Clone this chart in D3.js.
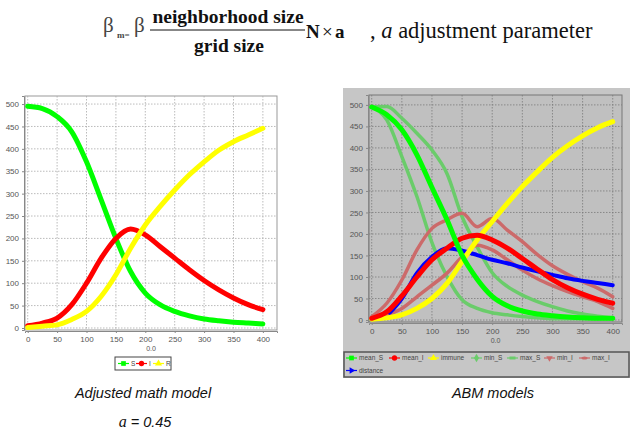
<!DOCTYPE html>
<html>
<head>
<meta charset="utf-8">
<script src="https://cdn.jsdelivr.net/npm/d3@7"></script>
<style>
  body { margin: 0; background: #fff; }
  svg { display: block; }
</style>
</head>
<body>
<svg id="chart" width="630" height="437"></svg>
<script>
// ---- data: adjusted math model (left) ----
var mathT = [0, 25, 50, 75, 100, 125, 150, 175, 200, 225, 250, 275, 300, 325, 350, 375, 400];
var mathS = [495, 490, 472, 438, 371, 286, 200, 126, 78, 52, 37, 27, 20, 16, 13, 11, 9];
var mathI = [5, 11, 22, 52, 100, 156, 200, 221, 208, 182, 156, 130, 106, 85, 67, 52, 41];
var mathR = [1, 4, 7, 19, 37, 71, 119, 178, 230, 271, 308, 342, 371, 397, 416, 431, 446];

// ---- data: ABM models (right) ----
var abmT = [0, 25, 50, 75, 100, 125, 150, 175, 200, 225, 250, 275, 300, 325, 350, 375, 400];
var meanS = [495, 477, 442, 384, 308, 233, 150, 95, 55, 33, 21, 14, 10, 7, 5, 4, 4];
var minS = [495, 465, 380, 287, 180, 101, 47, 27, 17, 12, 8, 5, 3, 3, 3, 3, 3];
var maxS = [495, 496, 469, 434, 395, 340, 240, 170, 110, 78, 58, 43, 31, 21, 14, 9, 5];
var meanI = [4, 19, 56, 100, 140, 167, 190, 197, 186, 167, 143, 118, 94, 75, 60, 48, 39];
var maxI = [8, 39, 93, 163, 213, 233, 248, 217, 236, 209, 182, 152, 126, 106, 89, 74, 54];
var minI = [3, 12, 27, 54, 81, 109, 147, 174, 163, 140, 116, 96, 80, 66, 54, 43, 27];
var immune = [2, 5, 12, 27, 50, 85, 136, 186, 229, 271, 310, 345, 378, 405, 428, 447, 461];
var distT = [30, 50, 75, 100, 125, 150, 175, 200, 225, 250, 275, 300, 325, 350, 375, 400];
var distance = [17, 50, 109, 147, 167, 161, 151, 140, 132, 122, 113, 105, 97, 91, 86, 81];

var xTicks = [0, 50, 100, 150, 200, 250, 300, 350, 400];
var yTicks = [0, 50, 100, 150, 200, 250, 300, 350, 400, 450, 500];

var svg = d3.select("#chart");
var tickFont = "Liberation Sans, Arial, sans-serif";

function drawPanel(opt) {
  var g = svg.append("g");
  var x = d3.scaleLinear().domain(opt.xDomain).range([opt.left, opt.right]);
  var y = d3.scaleLinear().domain(opt.yDomain).range([opt.bottom, opt.top]);

  g.append("rect")
    .attr("x", opt.left).attr("y", opt.top)
    .attr("width", opt.right - opt.left).attr("height", opt.bottom - opt.top)
    .attr("fill", opt.plotBg).attr("stroke", opt.border).attr("stroke-width", 1);

  // grid
  g.selectAll(".gx").data(xTicks).enter().append("line")
    .attr("x1", d => x(d)).attr("x2", d => x(d))
    .attr("y1", opt.top).attr("y2", opt.bottom)
    .attr("stroke", opt.grid).attr("stroke-width", 0.8).attr("stroke-dasharray", "1.5,1.5");
  g.selectAll(".gy").data(yTicks).enter().append("line")
    .attr("y1", d => y(d)).attr("y2", d => y(d))
    .attr("x1", opt.left).attr("x2", opt.right)
    .attr("stroke", opt.grid).attr("stroke-width", 0.8).attr("stroke-dasharray", "1.5,1.5");

  // axes
  var xAxis = d3.axisBottom(x).tickValues(xTicks).tickSize(2).tickPadding(3);
  var yAxis = d3.axisLeft(y).tickValues(yTicks).tickSize(2).tickPadding(3);
  var gx = g.append("g").attr("transform", "translate(0," + (opt.bottom + 1) + ")").call(xAxis);
  var gy = g.append("g").attr("transform", "translate(" + (opt.left - 1) + ",0)").call(yAxis);
  [gx, gy].forEach(function (a) {
    a.select(".domain").attr("stroke", "#888");
    a.selectAll(".tick line").attr("stroke", "#888");
    a.selectAll("text").attr("fill", "#555").style("font-family", tickFont).style("font-size", "8px");
  });

  g.append("text")
    .attr("x", (opt.left + opt.right) / 2).attr("y", opt.bottom + 21)
    .attr("text-anchor", "middle")
    .style("font-family", tickFont).style("font-size", "7px").attr("fill", "#555")
    .text("0.0");

  var clip = "clip" + opt.id;
  g.append("clipPath").attr("id", clip).append("rect")
    .attr("x", opt.left).attr("y", opt.top)
    .attr("width", opt.right - opt.left).attr("height", opt.bottom - opt.top);

  var lines = g.append("g").attr("clip-path", "url(#" + clip + ")");
  opt.series.forEach(function (s) {
    var pts = s.t.map((t, i) => [t, s.v[i]]);
    lines.append("path")
      .datum(pts)
      .attr("fill", "none")
      .attr("stroke", s.color)
      .attr("stroke-width", s.width)
      .attr("stroke-linecap", "round")
      .attr("stroke-linejoin", "round")
      .attr("d", d3.line().x(d => x(d[0])).y(d => y(d[1])).curve(d3.curveMonotoneX));
  });
  return g;
}

function marker(g, shape, cx, cy, color) {
  var sym = {
    square: d3.symbolSquare, circle: d3.symbolCircle, up: d3.symbolTriangle,
    diamond: d3.symbolDiamond
  };
  if (shape === "hrect") {
    g.append("rect").attr("x", cx - 3).attr("y", cy - 1.5).attr("width", 6).attr("height", 3).attr("fill", color);
  } else if (shape === "down") {
    g.append("path").attr("d", d3.symbol(d3.symbolTriangle, 18)).attr("transform", "translate(" + cx + "," + cy + ") rotate(180)").attr("fill", color);
  } else if (shape === "ellipse") {
    g.append("ellipse").attr("cx", cx).attr("cy", cy).attr("rx", 3).attr("ry", 1.5).attr("fill", color);
  } else if (shape === "right") {
    g.append("path").attr("d", d3.symbol(d3.symbolTriangle, 18)).attr("transform", "translate(" + cx + "," + cy + ") rotate(90)").attr("fill", color);
  } else {
    g.append("path").attr("d", d3.symbol(sym[shape], 22)).attr("transform", "translate(" + cx + "," + cy + ")").attr("fill", color);
  }
}

function legendItem(g, x0, y0, color, shape, label) {
  g.append("line").attr("x1", x0).attr("x2", x0 + 11).attr("y1", y0).attr("y2", y0)
    .attr("stroke", color).attr("stroke-width", 1.2);
  marker(g, shape, x0 + 5.5, y0, color);
  g.append("text").attr("x", x0 + 13).attr("y", y0 + 2.3)
    .style("font-family", tickFont).style("font-size", "6.5px").attr("fill", "#444")
    .text(label);
}

// ---- formula heading ----
var head = svg.append("g").style("font-family", "Liberation Serif, Times New Roman, serif").attr("fill", "#111");
head.append("text").attr("x", 103).attr("y", 32).style("font-size", "21px").attr("fill", "#444").text("β");
head.append("text").attr("x", 117).attr("y", 38).style("font-size", "9px").style("font-weight", "bold").attr("fill", "#444").text("m=");
head.append("text").attr("x", 134).attr("y", 32).style("font-size", "21px").attr("fill", "#444").text("β");
head.append("text").attr("x", 228).attr("y", 23).attr("text-anchor", "middle").style("font-size", "19.5px").style("font-weight", "bold").text("neighborhood size");
head.append("line").attr("x1", 150).attr("x2", 305).attr("y1", 30).attr("y2", 30).attr("stroke", "#111").attr("stroke-width", 1);
head.append("text").attr("x", 229).attr("y", 52).attr("text-anchor", "middle").style("font-size", "19.5px").style("font-weight", "bold").text("grid size");
head.append("text").attr("x", 306).attr("y", 38).style("font-size", "19px").style("font-weight", "bold").text("N");
head.append("text").attr("x", 322).attr("y", 38).style("font-size", "19px").text("×");
head.append("text").attr("x", 335).attr("y", 38).style("font-size", "19px").style("font-weight", "bold").text("a");
var t2 = head.append("text").attr("x", 370).attr("y", 38).style("font-size", "22.5px");
t2.append("tspan").text(", ");
t2.append("tspan").style("font-style", "italic").text("a");
t2.append("tspan").text(" adjustment parameter");

// ---- left chart ----
drawPanel({
  id: "L", left: 25, right: 277, top: 96, bottom: 330,
  xDomain: [-4.6, 424], yDomain: [-4.5, 518],
  plotBg: "#ffffff", border: "#999", grid: "#aaa",
  series: [
    { t: mathT, v: mathS, color: "#00ff00", width: 5 },
    { t: mathT, v: mathI, color: "#ff0000", width: 5 },
    { t: mathT, v: mathR, color: "#ffff00", width: 5 }
  ]
});

var legL = svg.append("g");
legL.append("rect").attr("x", 115).attr("y", 357).attr("width", 56).attr("height", 13)
  .attr("fill", "#fff").attr("stroke", "#444").attr("stroke-width", 1);
legendItem(legL, 118, 363.5, "#00ff00", "square", "S");
legendItem(legL, 136, 363.5, "#ff0000", "circle", "I");
legendItem(legL, 153, 363.5, "#ffff00", "up", "R");

// ---- right chart ----
svg.append("rect").attr("x", 343).attr("y", 88).attr("width", 287).attr("height", 290).attr("fill", "#c6c6c6");

drawPanel({
  id: "R", left: 369, right: 622, top: 95, bottom: 322,
  xDomain: [-4.5, 415.4], yDomain: [-4.6, 523],
  plotBg: "#c0c0c0", border: "#777", grid: "#7a7a7a",
  series: [
    { t: abmT, v: minS, color: "#6acc6a", width: 3.5 },
    { t: abmT, v: maxS, color: "#6acc6a", width: 3.5 },
    { t: abmT, v: maxI, color: "#cc6a6a", width: 3.5 },
    { t: abmT, v: minI, color: "#cc6a6a", width: 3.5 },
    { t: distT, v: distance, color: "#0000ff", width: 4 },
    { t: abmT, v: immune, color: "#ffff00", width: 5 },
    { t: abmT, v: meanI, color: "#ff0000", width: 5 },
    { t: abmT, v: meanS, color: "#00ff00", width: 5 }
  ]
});

var legR = svg.append("g");
legR.append("rect").attr("x", 344).attr("y", 352).attr("width", 285).attr("height", 25)
  .attr("fill", "#c6c6c6").attr("stroke", "#555").attr("stroke-width", 1.5);
legendItem(legR, 346, 358, "#00ff00", "square", "mean_S");
legendItem(legR, 389, 358, "#ff0000", "circle", "mean_I");
legendItem(legR, 428, 358, "#ffff00", "up", "immune");
legendItem(legR, 471, 358, "#6acc6a", "diamond", "min_S");
legendItem(legR, 507, 358, "#6acc6a", "hrect", "max_S");
legendItem(legR, 544, 358, "#cc6a6a", "down", "min_I");
legendItem(legR, 579, 358, "#cc6a6a", "ellipse", "max_I");
legendItem(legR, 346, 370.5, "#0000ff", "right", "distance");

// ---- captions ----
var cap = svg.append("g").style("font-family", "Liberation Sans, Arial, sans-serif").style("font-style", "italic").attr("fill", "#111");
cap.append("text").attr("x", 143).attr("y", 398).attr("text-anchor", "middle").style("font-size", "14.5px").text("Adjusted math model");
var aeq = cap.append("text").attr("x", 145).attr("y", 427).attr("text-anchor", "middle").style("font-size", "14.5px");
aeq.append("tspan").style("font-family", "Liberation Serif, Times New Roman, serif").style("font-size", "16px").text("a");
aeq.append("tspan").text(" = 0.45");
cap.append("text").attr("x", 493).attr("y", 398).attr("text-anchor", "middle").style("font-size", "14.5px").text("ABM models");
</script>
</body>
</html>
